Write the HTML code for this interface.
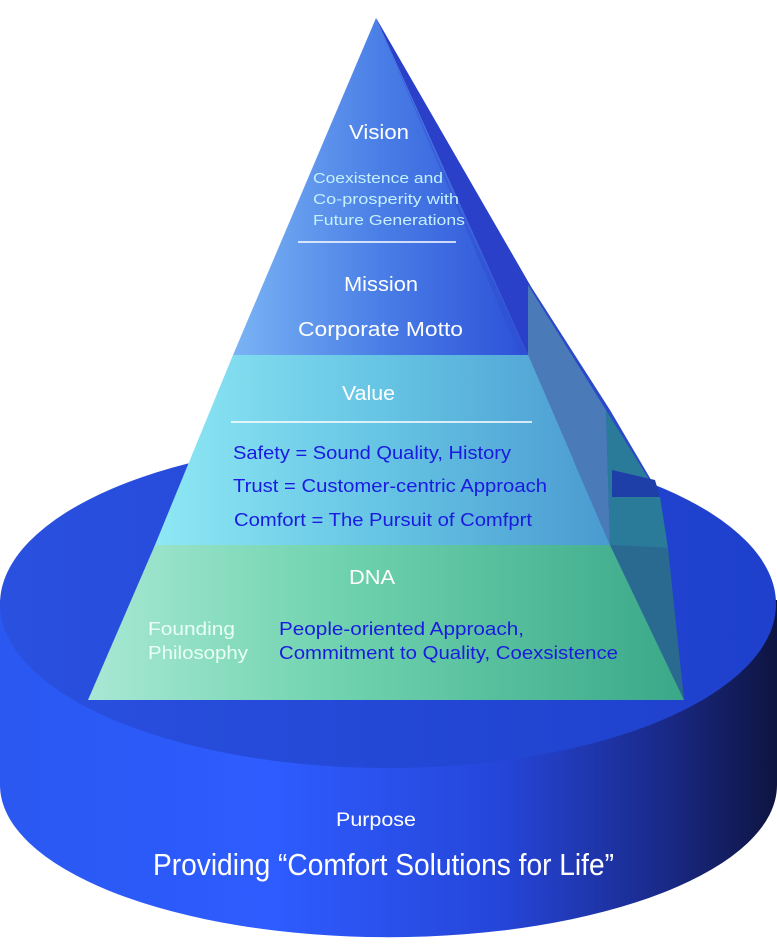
<!DOCTYPE html>
<html><head><meta charset="utf-8"><style>
html,body{margin:0;padding:0;background:#fff}
svg text{font-family:"Liberation Sans",sans-serif}
</style></head><body>
<svg width="777" height="940" viewBox="0 0 777 940" xmlns="http://www.w3.org/2000/svg">
<defs>
<linearGradient id="side" x1="0" x2="1" y1="0" y2="0">
<stop offset="0" stop-color="#2a58f0"/><stop offset="0.35" stop-color="#2e5cff"/><stop offset="0.65" stop-color="#2545d8"/><stop offset="0.85" stop-color="#1a2a8a"/><stop offset="1" stop-color="#0e1440"/></linearGradient>
<linearGradient id="topf" x1="0" x2="1"><stop offset="0" stop-color="#2a50e0"/><stop offset="1" stop-color="#1e40cc"/></linearGradient>
<linearGradient id="blue" x1="0" x2="1"><stop offset="0" stop-color="#7ab4f4"/><stop offset="0.5" stop-color="#4a7ee6"/><stop offset="1" stop-color="#2c50d8"/></linearGradient>
<linearGradient id="cyan" x1="0" x2="1"><stop offset="0" stop-color="#8ee8f4"/><stop offset="0.5" stop-color="#66c4e4"/><stop offset="1" stop-color="#4a9ad0"/></linearGradient>
<linearGradient id="green" x1="0" x2="1"><stop offset="0" stop-color="#a8e8d4"/><stop offset="0.4" stop-color="#72d4b0"/><stop offset="1" stop-color="#3aa888"/></linearGradient>
</defs>
<path d="M0 600 L0 785 A388 152 0 0 0 777 785 L777 600 Z" fill="url(#side)"/>
<ellipse cx="388" cy="604" rx="388" ry="164" fill="url(#topf)"/>
<polygon points="376,18 530,285 610,410 660,495 684,700 610,545 528,355" fill="#2a48c8"/>
<polygon points="376,18 530,285 528,355" fill="#2a40c8"/>
<polygon points="528,285 606,410 610,545 528,355" fill="#4a7ab8"/>
<polygon points="606,410 660,497 668,548 610,545" fill="#2a7a9a"/>
<polygon points="610,545 668,548 684,700" fill="#2a6a90"/>
<polygon points="612,470 655,480 660,497 612,497" fill="#1e3ea8"/>
<polygon points="376,18 528,355 233,355" fill="url(#blue)"/>
<polygon points="376,18 460,210 528,355 520,355" fill="#3050d0" opacity="0.6"/>
<polygon points="233,355 528,355 610,545 155,545" fill="url(#cyan)"/>
<polygon points="155,545 610,545 684,700 88,700" fill="url(#green)"/>
<g fill="#fff" lengthAdjust="spacingAndGlyphs">
<text x="349" y="139" font-size="20" textLength="60" lengthAdjust="spacingAndGlyphs">Vision</text>
<text x="344" y="291" font-size="20" textLength="74" lengthAdjust="spacingAndGlyphs">Mission</text>
<text x="298" y="336" font-size="20" textLength="165" lengthAdjust="spacingAndGlyphs">Corporate Motto</text>
<text x="342" y="400" font-size="20" textLength="53" lengthAdjust="spacingAndGlyphs">Value</text>
<text x="349" y="584" font-size="20" textLength="46" lengthAdjust="spacingAndGlyphs">DNA</text>
<text x="336" y="826" font-size="19" textLength="80" lengthAdjust="spacingAndGlyphs">Purpose</text>
<text x="153" y="875" font-size="31" textLength="461" lengthAdjust="spacingAndGlyphs">Providing “Comfort Solutions for Life”</text>
</g>
<g fill="#c4f0ff" font-size="15">
<text x="313" y="183" textLength="130" lengthAdjust="spacingAndGlyphs">Coexistence and</text>
<text x="313" y="204" textLength="146" lengthAdjust="spacingAndGlyphs">Co-prosperity with</text>
<text x="313" y="225" textLength="152" lengthAdjust="spacingAndGlyphs">Future Generations</text>
</g>
<line x1="298" y1="242" x2="456" y2="242" stroke="#fff" stroke-width="1.5"/>
<line x1="231" y1="422" x2="532" y2="422" stroke="#fff" stroke-width="1.5"/>
<g fill="#1a1ae0" font-size="18">
<text x="233" y="459" textLength="278" lengthAdjust="spacingAndGlyphs">Safety = Sound Quality, History</text>
<text x="233" y="492" textLength="314" lengthAdjust="spacingAndGlyphs">Trust = Customer-centric Approach</text>
<text x="234" y="526" textLength="298" lengthAdjust="spacingAndGlyphs">Comfort = The Pursuit of Comfprt</text>
<text x="279" y="635" textLength="245" lengthAdjust="spacingAndGlyphs">People-oriented Approach,</text>
<text x="279" y="659" textLength="339" lengthAdjust="spacingAndGlyphs">Commitment to Quality, Coexsistence</text>
</g>
<g fill="#eafff6" font-size="18">
<text x="148" y="635" textLength="87" lengthAdjust="spacingAndGlyphs">Founding</text>
<text x="148" y="659" textLength="100" lengthAdjust="spacingAndGlyphs">Philosophy</text>
</g>
</svg>
</body></html>
